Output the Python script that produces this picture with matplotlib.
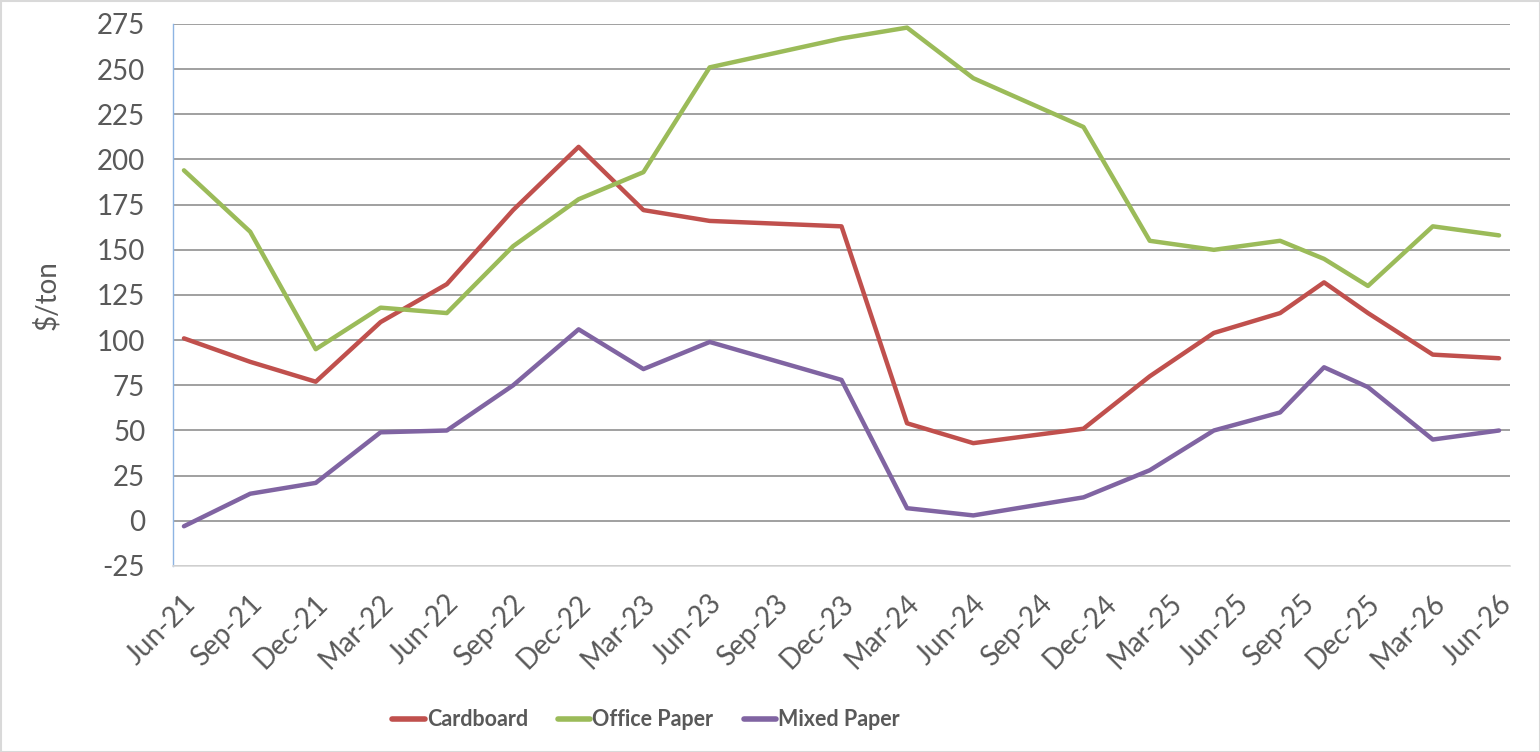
import matplotlib
matplotlib.use("Agg")
import matplotlib.pyplot as plt
from matplotlib.transforms import ScaledTranslation
from matplotlib.patches import Rectangle
import datetime as dt

# ---- data ----
dates = ["2021-06", "2021-09", "2021-12", "2022-03", "2022-06", "2022-09", "2022-12",
         "2023-03", "2023-06", "2023-12", "2024-03", "2024-06", "2024-11", "2025-02",
         "2025-05", "2025-08", "2025-10", "2025-12", "2026-03", "2026-06"]
cardboard = [101, 88, 77, 110, 131, 172, 207, 172, 166, 163, 54, 43, 51, 80,
             104, 115, 132, 115, 92, 90]
office_paper = [194, 160, 95, 118, 115, 152, 178, 193, 251, 267, 273, 245, 218, 155,
                150, 155, 145, 130, 163, 158]
mixed_paper = [-3, 15, 21, 49, 50, 75, 106, 84, 99, 78, 7, 3, 13, 28,
               50, 60, 85, 74, 45, 50]
tick_labels = ["Jun-21", "Sep-21", "Dec-21", "Mar-22", "Jun-22", "Sep-22", "Dec-22",
               "Mar-23", "Jun-23", "Sep-23", "Dec-23", "Mar-24", "Jun-24", "Sep-24",
               "Dec-24", "Mar-25", "Jun-25", "Sep-25", "Dec-25", "Mar-26", "Jun-26"]
series_names = ["Cardboard", "Office Paper", "Mixed Paper"]
colors = ["#C0504D", "#9BBB59", "#8064A2"]
y_ticks = list(range(-25, 276, 25))

def to_date(s):
    y, m = s.split("-")
    return dt.datetime(int(y), int(m), 15)

x = [to_date(d) for d in dates]
tick_x = [dt.datetime.strptime(t, "%b-%y").replace(day=15) for t in tick_labels]

plt.rcParams["font.family"] = ["Lato", "DejaVu Sans"]
plt.rcParams["axes.unicode_minus"] = False
fig = plt.figure(figsize=(15.4, 7.52), dpi=100)
ax = fig.add_axes([173/1540, 1-566/752, 1337/1540, 542/752])

for vals, name, c in zip([cardboard, office_paper, mixed_paper], series_names, colors):
    ax.plot(x, vals, color=c, lw=3.2, label=name, solid_joinstyle="round",
            solid_capstyle="round")

ax.set_ylim(-25, 275)
ax.set_yticks(y_ticks)
ax.set_xlim(to_date("2021-06") - dt.timedelta(days=15.2),
            to_date("2026-06") + dt.timedelta(days=15.2))
ax.set_xticks(tick_x)
ax.set_xticklabels(tick_labels)

ax.grid(axis="y", color="#868686", lw=1.1)
ax.set_axisbelow(True)
for s in ["top", "right"]:
    ax.spines[s].set_visible(False)
ax.spines["left"].set_color("#8EB4E3")
ax.spines["left"].set_linewidth(1.0)
ax.spines["bottom"].set_color("#D9D9D9")
ax.spines["bottom"].set_linewidth(1.2)
ax.tick_params(axis="both", length=0, labelcolor="#595959", labelsize=20)
ax.tick_params(axis="y", pad=20)
ax.tick_params(axis="x", pad=24)

offset = ScaledTranslation(8/100, 0, fig.dpi_scale_trans)
for lab in ax.get_xticklabels():
    lab.set_rotation(45)
    lab.set_ha("right")
    lab.set_va("center")
    lab.set_rotation_mode("anchor")
    lab.set_transform(lab.get_transform() + offset)

ax.set_ylabel("$/ton", fontsize=20, color="#595959")
ax.yaxis.set_label_coords(-0.0845, 0.5)

leg = fig.legend(loc="center", bbox_to_anchor=(646/1540, 1-720/752), ncol=3,
                 frameon=False, handlelength=1.5, handletextpad=0.1, columnspacing=1.4,
                 prop={"family": ["Lato", "DejaVu Sans"], "weight": "bold", "size": 15.5})
for t in leg.get_texts():
    t.set_color("#595959")
for h in leg.get_lines():
    h.set_linewidth(4)

fig.patches.append(Rectangle((0.5/1540, 0.5/752), 1-1/1540, 1-1/752,
                             transform=fig.transFigure, fill=False,
                             edgecolor="#D9D9D9", lw=1.5))

fig.savefig("out.png", dpi=100, facecolor="white")
